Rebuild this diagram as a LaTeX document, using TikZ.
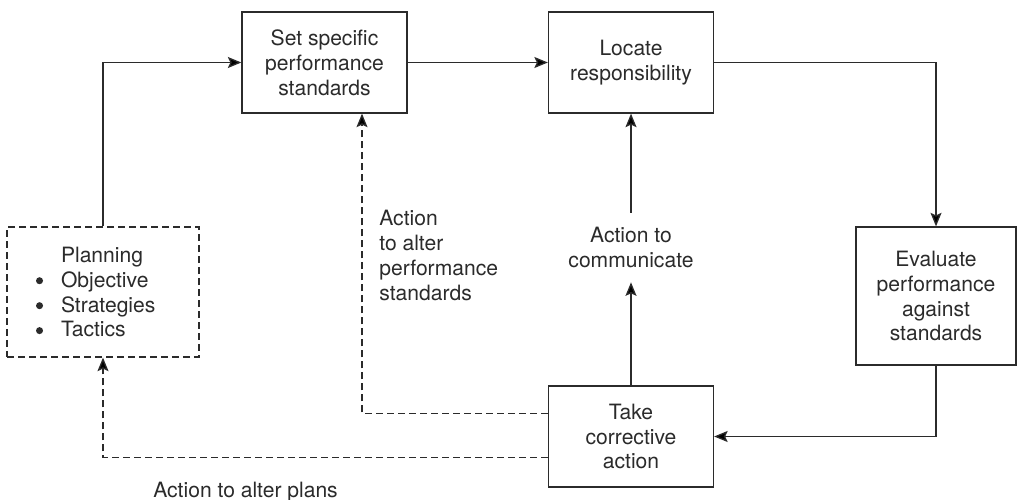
\documentclass[tikz,border=0pt]{standalone}
\usepackage{fontspec}
\setmainfont{TeX Gyre Heros}
\usetikzlibrary{arrows.meta,positioning,calc}
\definecolor{cInk}{HTML}{2B2B2B}
\newcommand{\planbullet}{\makebox[5mm][l]{\tikz[x=1pt,y=1pt,baseline=0pt]\fill[cInk] (2,3.6) circle (2);}}
\tikzset{
  flow/.style={-{Stealth[length=2.7mm,width=2.2mm,inset=0.5mm]},line width=0.75pt,draw=cInk},
  altflow/.style={flow,dash pattern=on 1.4mm off 0.8mm},
  stepbox/.style={draw=cInk,line width=0.75pt,align=center,text=cInk,
                  font=\fontsize{12}{14.2}\selectfont,minimum width=3.3cm,minimum height=2.02cm,
                  inner sep=0pt},
  planbox/.style={stepbox,dash pattern=on 1.4mm off 0.8mm,align=left,
                  text width=2.68cm,inner xsep=0.58cm,minimum height=2.6cm},
  note/.style={font=\fontsize{12}{14.2}\selectfont,text=cInk,inner sep=0pt}
}

\begin{document}
\begin{tikzpicture}[x=0.02cm,y=-0.02cm]
  \useasboundingbox (0,0) rectangle (1017,500);

  % main loop
  \node[stepbox] (set) at (324.5,62.5) {Set specific\\performance\\standards};
  \node[stepbox] (locate) at (631,62.5) {Locate\\responsibility};
  \node[stepbox,minimum width=3.2cm,minimum height=2.76cm] (eval) at (936,296)
    {Evaluate\\performance\\against\\standards};
  \node[stepbox] (take) at (631,436.5) {Take\\corrective\\action};
  \node[planbox] (plan) at (103,292)
    {\makebox[5mm][l]{}Planning\\
     \planbullet Objective\\
     \planbullet Strategies\\
     \planbullet Tactics};

  % feedback labels
  \node[note,align=center,minimum height=1.38cm] (comm) at (631,247.5) {Action to\\communicate};
  \node[note,align=left,anchor=base west] (altstd) at (379,300)
    {Action\\to alter\\performance\\standards};
  \node[note,anchor=base west] (altplan) at (153,497) {Action to alter plans};

  \draw[flow] (plan.north) |- (set.west);
  \draw[flow] (set) -- (locate);
  \draw[flow] (locate.east) -| (eval.north);
  \draw[flow] (eval.south) |- (take.east);
  \draw[flow] (take.north) -- (comm.south);
  \draw[flow] (comm.north) -- (locate.south);

  \draw[altflow] ([yshift=4.6mm]take.west) -| ([xshift=7.5mm]set.south);
  \draw[altflow] ([yshift=-4.2mm]take.west) -| (plan.south);
\end{tikzpicture}
\end{document}
